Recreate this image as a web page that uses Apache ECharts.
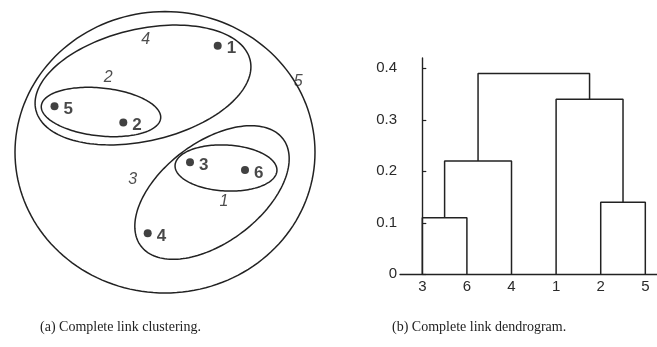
<!DOCTYPE html>
<html>
<head>
<meta charset="utf-8">
<script src="https://cdn.jsdelivr.net/npm/echarts@6/dist/echarts.min.js"></script>
<style>html,body{margin:0;padding:0;background:#fff;}#c{width:657px;height:347px;}</style>
</head>
<body>
<div id="c"></div>
<script>
// ---- (a) clustering diagram data (diagram units) ----
const pointNames = ['1', '5', '2', '3', '6', '4'];
const pointX = [217.7, 54.5, 123.3, 190, 245, 147.7];
const pointY = [45.7, 106.3, 122.5, 162.3, 170, 233.3];

const clusterIds = ['2', '4', '3', '1', '5'];
const clusterCx = [101, 143, 212, 226, 165];
const clusterCy = [112, 85, 192.5, 168, 152.3];
const clusterRx = [60, 110, 89, 51, 150];
const clusterRy = [24, 56, 50, 23, 140.7];
const clusterAngle = [-6, 13, 37, -3, 0];
const clusterLabelX = [108.3, 145.7, 132.7, 224, 298.3];
const clusterLabelY = [77.3, 40, 180, 201.7, 81.7];

// ---- (b) dendrogram data ----
const leafLabels = ['3', '6', '4', '1', '2', '5'];
const mergeLeft = [0, 6, 4, 3, 7];   // node ids: leaves 0..5, merges 6..
const mergeRight = [1, 2, 5, 8, 9];
const mergeHeight = [0.11, 0.22, 0.14, 0.34, 0.39];
const yTicks = [0, 0.1, 0.2, 0.3, 0.4];

const captions = ['(a) Complete link clustering.', '(b) Complete link dendrogram.'];

// build node positions
const nodeX = leafLabels.map((_, i) => i);
const nodeH = leafLabels.map(() => 0);
mergeLeft.forEach((l, k) => {
  const r = mergeRight[k];
  nodeX.push((nodeX[l] + nodeX[r]) / 2);
  nodeH.push(mergeHeight[k]);
});

const sans = 'Liberation Sans';

const linkSeries = mergeLeft.map((l, k) => {
  const r = mergeRight[k];
  const h = mergeHeight[k];
  return {
    type: 'line', xAxisIndex: 1, yAxisIndex: 1,
    data: [[nodeX[l], nodeH[l]], [nodeX[l], h], [nodeX[r], h], [nodeX[r], nodeH[r]]],
    showSymbol: false, symbol: 'none', silent: true,
    lineStyle: { color: '#222', width: 1.5 }
  };
});

const ellipseData = clusterIds.map((id, i) => [clusterCx[i], clusterCy[i], clusterRx[i], clusterRy[i], clusterAngle[i]]);

const chart = echarts.init(document.getElementById('c'), null, { renderer: 'canvas' });
chart.setOption({
  animation: false,
  backgroundColor: '#fff',
  title: [
    { text: captions[0], left: 35, top: 315, textStyle: { fontFamily: 'Liberation Serif', fontSize: 14, fontWeight: 'normal', color: '#222' } },
    { text: captions[1], left: 387, top: 315, textStyle: { fontFamily: 'Liberation Serif', fontSize: 14, fontWeight: 'normal', color: '#222' } }
  ],
  grid: [
    { left: 0, top: 0, width: 330, height: 300 },
    { left: 400, right: 0, top: 58, height: 216.3 }
  ],
  xAxis: [
    { gridIndex: 0, type: 'value', min: 0, max: 330, show: false },
    {
      gridIndex: 1, type: 'value', min: -0.5, max: 5.262,
      splitLine: { show: false },
      axisLine: { show: true, lineStyle: { color: '#222', width: 1.4 } },
      axisTick: { show: false },
      axisLabel: {
        customValues: leafLabels.map((_, i) => i),
        formatter: v => leafLabels[Math.round(v)] || '',
        fontFamily: sans, fontSize: 15, color: '#2a2a2a', margin: 5
      }
    }
  ],
  yAxis: [
    { gridIndex: 0, type: 'value', min: 0, max: 300, inverse: true, show: false },
    {
      gridIndex: 1, type: 'value', min: 0, max: 0.42,
      splitLine: { show: false },
      axisLine: { show: true, lineStyle: { color: '#222', width: 1.4 } },
      axisTick: { show: true, inside: true, length: 4, customValues: yTicks, lineStyle: { color: '#222', width: 1.2 } },
      axisLabel: {
        customValues: yTicks,
        formatter: v => (v === 0 ? '0' : v.toFixed(1)),
        fontFamily: sans, fontSize: 15, color: '#2a2a2a', margin: 3
      }
    }
  ],
  series: [
    {
      type: 'custom', xAxisIndex: 0, yAxisIndex: 0, silent: true,
      data: ellipseData,
      renderItem: function (params, api) {
        const c = api.coord([api.value(0), api.value(1)]);
        const kx = api.size([1, 0])[0];
        const ky = api.size([0, 1])[1];
        const rx = api.value(2), ry = api.value(3);
        const th = api.value(4) * Math.PI / 180;
        const ct = Math.cos(th), st = Math.sin(th);
        const pts = [];
        const n = 160;
        for (let i = 0; i < n; i++) {
          const t = 2 * Math.PI * i / n;
          const x = rx * Math.cos(t), y = ry * Math.sin(t);
          const xr = x * ct + y * st;
          const yr = -x * st + y * ct;
          pts.push([c[0] + xr * kx, c[1] + yr * ky]);
        }
        return { type: 'polygon', shape: { points: pts }, style: { fill: 'none', stroke: '#222', lineWidth: 1.5 } };
      }
    },
    {
      type: 'scatter', xAxisIndex: 0, yAxisIndex: 0, silent: true,
      symbol: 'circle', symbolSize: 8,
      itemStyle: { color: '#111' },
      data: pointNames.map((n, i) => ({ value: [pointX[i], pointY[i]], name: n })),
      label: {
        show: true, position: 'right', distance: 5, offset: [0, 3],
        formatter: p => p.name,
        fontFamily: sans, fontSize: 17, fontWeight: 'bold', color: '#1a1a1a'
      }
    },
    {
      type: 'scatter', xAxisIndex: 0, yAxisIndex: 0, silent: true,
      symbolSize: 0,
      data: clusterIds.map((n, i) => ({ value: [clusterLabelX[i], clusterLabelY[i]], name: n })),
      label: {
        show: true, position: 'inside',
        formatter: p => p.name,
        fontFamily: sans, fontSize: 16, fontStyle: 'italic', color: '#222'
      }
    }
  ].concat(linkSeries)
});
</script>
</body>
</html>
